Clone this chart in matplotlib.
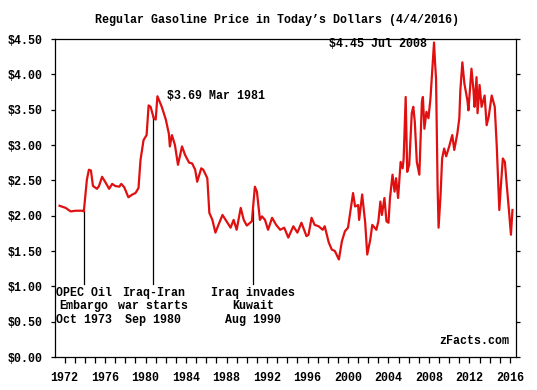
import matplotlib.pyplot as plt
import numpy as np

plt.rcParams['font.family'] = ['Liberation Mono', 'DejaVu Sans Mono']
plt.rcParams['font.weight'] = 'bold'

# monthly-ish readings, price in today's dollars
years = [1971.5, 1972.1, 1972.6, 1973.1, 1973.8, 1973.9, 1974.2, 1974.4, 1974.6, 1974.8,
         1975.2, 1975.4, 1975.7, 1976.0, 1976.4, 1976.7, 1977.0, 1977.4, 1977.6, 1977.9,
         1978.3, 1978.7, 1979.0, 1979.3, 1979.5, 1979.8, 1980.1, 1980.3, 1980.5, 1980.8,
         1981.0, 1981.17, 1981.6, 1982.0, 1982.3, 1982.4, 1982.6, 1982.9, 1983.2, 1983.6,
         1983.9, 1984.3, 1984.6, 1984.9, 1985.1, 1985.5, 1985.7, 1986.1, 1986.3, 1986.6,
         1986.9, 1987.2, 1987.6, 1988.0, 1988.4, 1988.7, 1989.0, 1989.4, 1989.7, 1990.0,
         1990.5, 1990.8, 1991.0, 1991.3, 1991.5, 1991.8, 1992.1, 1992.5, 1992.9, 1993.3,
         1993.7, 1994.1, 1994.6, 1995.0, 1995.4, 1995.9, 1996.1, 1996.4, 1996.7, 1997.1,
         1997.5, 1997.7, 1998.1, 1998.4, 1998.7, 1999.1, 1999.4, 1999.7, 2000.0, 2000.3,
         2000.5, 2000.7, 2001.0, 2001.1, 2001.4, 2001.7, 2001.9, 2002.2, 2002.4, 2002.8,
         2003.0, 2003.2, 2003.35, 2003.6, 2003.8, 2004.0, 2004.15, 2004.4, 2004.6, 2004.75,
         2004.95, 2005.2, 2005.4, 2005.5, 2005.7, 2005.85, 2006.05, 2006.3, 2006.45, 2006.6,
         2006.8, 2007.05, 2007.3, 2007.4, 2007.55, 2007.75, 2007.95, 2008.15, 2008.5, 2008.6,
         2008.7, 2008.85, 2008.95, 2009.15, 2009.3, 2009.5, 2009.7, 2010.0, 2010.3, 2010.5,
         2010.8, 2011.0, 2011.1, 2011.3, 2011.5, 2011.8, 2011.9, 2012.2, 2012.4, 2012.5,
         2012.7, 2012.8, 2013.0, 2013.2, 2013.5, 2013.7, 2013.9, 2014.2, 2014.5, 2014.7,
         2014.95, 2015.1, 2015.3, 2015.5, 2015.7, 2015.9, 2016.1, 2016.25]
prices = [2.14, 2.11, 2.06, 2.07, 2.07, 2.06, 2.51, 2.65, 2.64, 2.42,
          2.38, 2.42, 2.55, 2.48, 2.38, 2.45, 2.42, 2.41, 2.45, 2.40,
          2.26, 2.30, 2.32, 2.39, 2.79, 3.07, 3.14, 3.56, 3.54, 3.38,
          3.36, 3.69, 3.54, 3.36, 3.16, 2.98, 3.14, 3.00, 2.72, 2.98,
          2.86, 2.75, 2.74, 2.65, 2.48, 2.67, 2.65, 2.53, 2.04, 1.94,
          1.76, 1.87, 2.01, 1.92, 1.83, 1.94, 1.80, 2.11, 1.94, 1.86,
          1.92, 2.41, 2.34, 1.94, 1.99, 1.94, 1.80, 1.97, 1.87, 1.80,
          1.83, 1.69, 1.85, 1.76, 1.90, 1.71, 1.73, 1.97, 1.87, 1.85,
          1.80, 1.85, 1.62, 1.52, 1.50, 1.38, 1.64, 1.78, 1.83, 2.13,
          2.32, 2.13, 2.15, 1.94, 2.30, 1.90, 1.45, 1.66, 1.87, 1.80,
          1.92, 2.20, 2.01, 2.25, 1.92, 1.90, 2.25, 2.58, 2.34, 2.53,
          2.25, 2.76, 2.67, 2.81, 3.68, 2.62, 2.72, 3.45, 3.54, 3.33,
          2.76, 2.58, 3.61, 3.68, 3.23, 3.47, 3.38, 3.66, 4.45, 4.17,
          3.94, 2.44, 1.83, 2.30, 2.81, 2.95, 2.84, 2.98, 3.14, 2.93,
          3.16, 3.38, 3.77, 4.17, 3.87, 3.63, 3.49, 4.08, 3.77, 3.54,
          3.96, 3.45, 3.85, 3.54, 3.70, 3.28, 3.40, 3.70, 3.54, 2.98,
          2.08, 2.41, 2.81, 2.76, 2.41, 2.08, 1.73, 2.08]

event_years = [1973.9, 1980.75, 1990.6]
event_labels = ['OPEC Oil\nEmbargo\nOct 1973', 'Iraq-Iran\nwar starts\nSep 1980',
                'Iraq invades\nKuwait\nAug 1990']

fig = plt.figure(figsize=(5.37, 3.90), dpi=100)
ax = fig.add_axes([55 / 537, 33 / 390, 461 / 537, 318 / 390])

ax.plot(years, prices, color='#e01010', lw=1.6, zorder=3)

for ey, lab in zip(event_years, event_labels):
    top = np.interp(ey, years, prices)
    ax.plot([ey, ey], [1.03, top], color='black', lw=0.9, zorder=2)
    ax.text(ey, 0.99, lab, ha='center', va='top', fontsize=8.4, linespacing=1.15)

ax.annotate('$3.69 Mar 1981', xy=(1981.17, 3.69), xytext=(7, 0), textcoords='offset points',
            ha='left', va='center', fontsize=8.4)
ax.annotate('$4.45 Jul 2008', xy=(2008.5, 4.43), xytext=(-5, 0), textcoords='offset points',
            ha='right', va='center', fontsize=8.4)
ax.text(0.985, 0.05, 'zFacts.com', transform=ax.transAxes, ha='right', va='center', fontsize=8.4)

ax.set_xlim(1971.05, 2016.6)
ax.set_ylim(0, 4.5)
ax.set_xticks(np.arange(1972, 2017, 4))
ax.set_xticks(np.arange(1972, 2017, 1), minor=True)
ax.set_yticks(np.arange(0, 4.51, 0.5))
ax.set_yticklabels(['$%.2f' % v for v in np.arange(0, 4.51, 0.5)])
ax.tick_params(axis='x', which='both', direction='out', length=4.5, width=0.9, pad=6, labelsize=8.4)
ax.tick_params(axis='y', direction='out', length=3, width=0.9, pad=6, labelsize=8.4,
               right=True)
for s in ax.spines.values():
    s.set_linewidth(0.9)

fig.text(0.515, 1 - 20 / 390, 'Regular Gasoline Price in Today\u2019s Dollars (4/4/2016)',
         ha='center', va='center', fontsize=8.4, fontweight='bold')

fig.savefig('out.png', dpi=100)
